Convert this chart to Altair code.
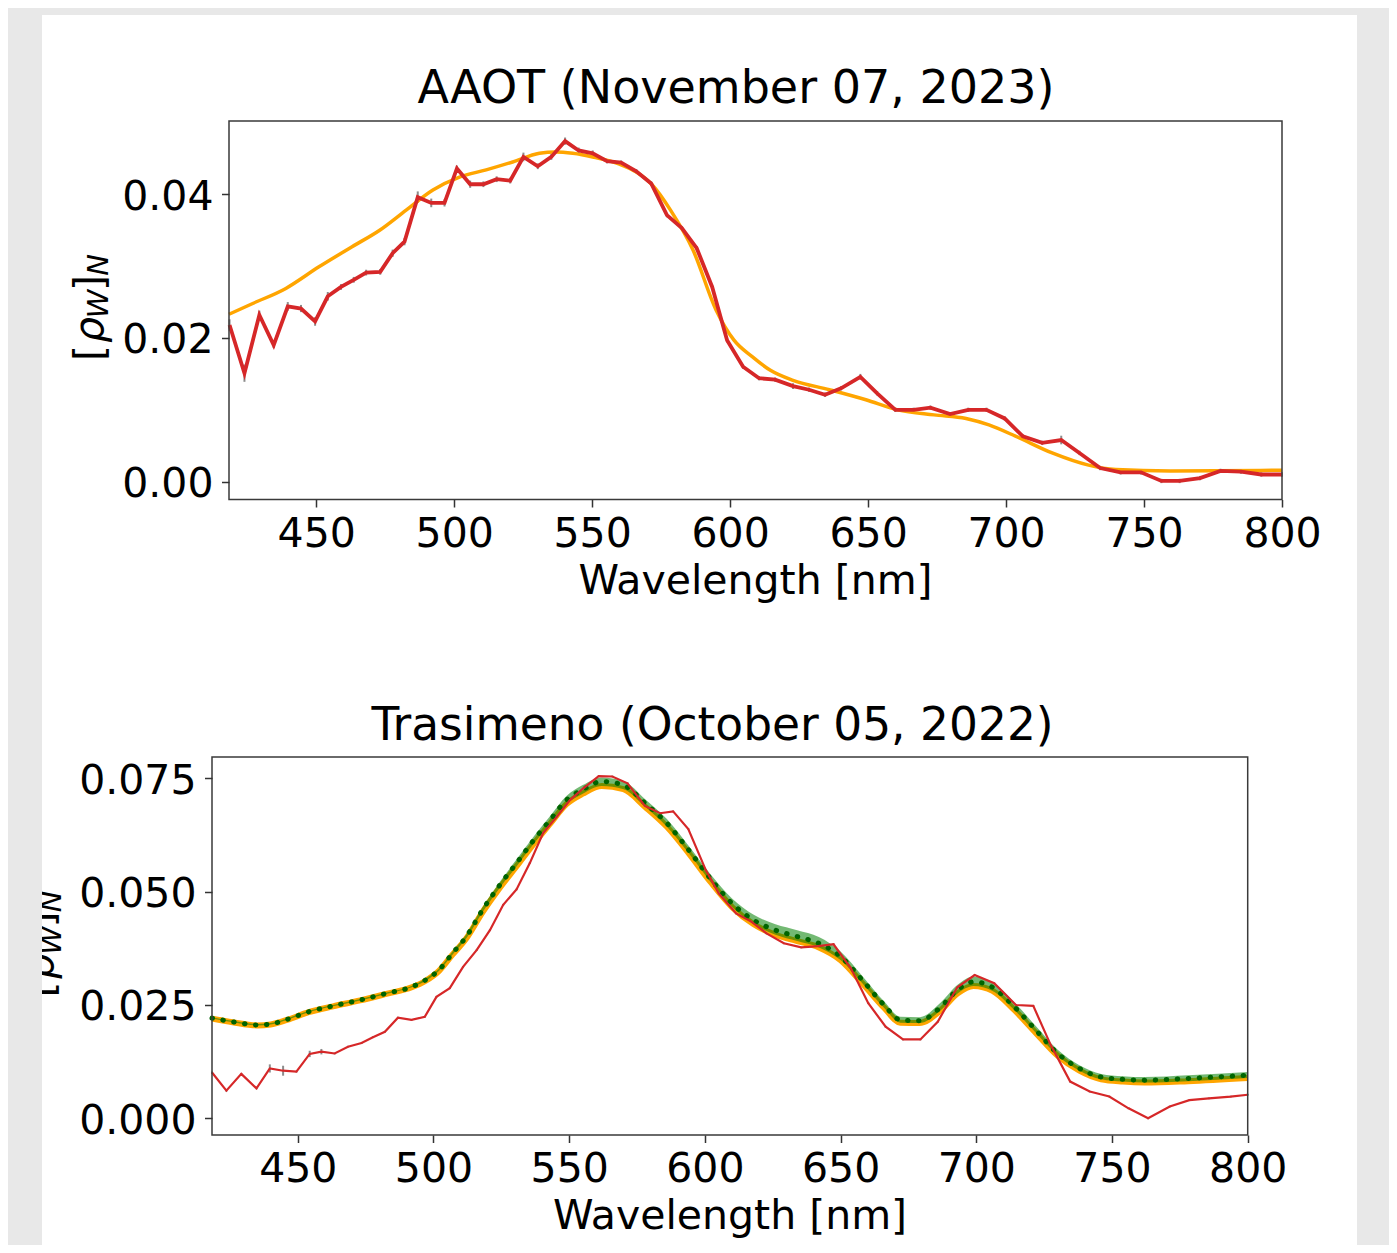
import altair as alt
import pandas as pd

FONT = "DejaVu Sans"

# ---------------- data ----------------
x_ticks = [450, 500, 550, 600, 650, 700, 750, 800]
top_y_ticks = [0.0, 0.02, 0.04]
bot_y_ticks = [0.0, 0.025, 0.05, 0.075]

top_title = "AAOT (November 07, 2023)"
bot_title = "Trasimeno (October 05, 2022)"
x_label = "Wavelength [nm]"

top_red_wl = [418.6, 424.0, 429.4, 434.6, 439.7, 444.5, 449.6, 454.2, 459.0, 463.6,
              468.1, 473.2, 477.7, 482.0, 486.8, 491.7, 496.5, 501.0, 505.8, 510.6,
              515.4, 520.3, 525.1, 530.3, 535.2, 540.2, 545.1, 550.2, 555.4, 560.5,
              566.0, 571.4, 577.1, 582.5, 587.9, 593.5, 598.9, 604.7, 610.5, 616.3,
              622.8, 628.6, 634.4, 640.2, 647.2, 653.3, 659.9, 666.5, 672.6, 679.7,
              686.3, 692.9, 699.5, 706.1, 713.1, 720.0, 726.6, 734.1, 741.5, 748.9,
              756.3, 762.9, 770.3, 777.7, 785.1, 792.5, 800.0]
top_red_val = [0.0218, 0.0151, 0.0232, 0.0190, 0.0244, 0.0241, 0.0223, 0.0258, 0.0271, 0.0281,
               0.0291, 0.0292, 0.0318, 0.0334, 0.0396, 0.0388, 0.0388, 0.0436, 0.0414, 0.0414,
               0.0421, 0.0419, 0.0452, 0.0439, 0.0452, 0.0474, 0.0461, 0.0457, 0.0446, 0.0444,
               0.0432, 0.0415, 0.0371, 0.0353, 0.0325, 0.0271, 0.0197, 0.0160, 0.0144, 0.0142,
               0.0133, 0.0128, 0.0121, 0.0130, 0.0146, 0.0123, 0.0100, 0.0100, 0.0103, 0.0094,
               0.0100, 0.0100, 0.0088, 0.0063, 0.0054, 0.0058, 0.0040, 0.0019, 0.0013, 0.0013,
               0.0001, 0.0001, 0.0005, 0.0015, 0.0014, 0.0010, 0.0010]
top_red_err = [0.0008, 0.0012, 0.0006, 0.0004, 0.0006, 0.0005, 0.0006, 0.0006, 0.0004, 0.0004,
               0.0004, 0.0004, 0.0005, 0.0005, 0.0008, 0.0006, 0.0005, 0.0004, 0.0005, 0.0004,
               0.0004, 0.0004, 0.0006, 0.0004, 0.0004, 0.0005, 0.0004, 0.0004, 0.0003, 0.0003,
               0.0003, 0.0003, 0.0003, 0.0003, 0.0003, 0.0003, 0.0003, 0.0003, 0.0003, 0.0003,
               0.0004, 0.0003, 0.0003, 0.0003, 0.0004, 0.0003, 0.0003, 0.0003, 0.0003, 0.0003,
               0.0003, 0.0003, 0.0003, 0.0003, 0.0003, 0.0006, 0.0003, 0.0003, 0.0003, 0.0003,
               0.0003, 0.0003, 0.0003, 0.0003, 0.0003, 0.0003, 0.0003]

top_orange_wl = [418.4, 427.0, 439.0, 451.0, 463.0, 473.0, 482.6, 492.3, 501.9, 511.6,
                 521.2, 530.9, 536.9, 543.0, 550.2, 559.9, 566.0, 571.8, 578.4, 586.6,
                 594.9, 601.4, 608.0, 614.6, 622.8, 636.0, 649.2, 660.7, 673.9, 685.5,
                 693.8, 703.6, 716.7, 729.9, 739.8, 759.6, 800.0]
top_orange_val = [0.0233, 0.0248, 0.0269, 0.0299, 0.0327, 0.0350, 0.0378, 0.0406, 0.0424, 0.0434,
                  0.0445, 0.0457, 0.0459, 0.0457, 0.0452, 0.0442, 0.0431, 0.0413, 0.0378, 0.0322,
                  0.0239, 0.0197, 0.0174, 0.0155, 0.0141, 0.0128, 0.0114, 0.0100, 0.0093, 0.0088,
                  0.0079, 0.0063, 0.0040, 0.0023, 0.0017, 0.0015, 0.0016]

bot_red_wl = [418.4, 423.7, 429.2, 434.8, 439.7, 444.6, 449.5, 454.4, 458.7, 463.6,
              468.5, 473.5, 477.7, 482.1, 486.9, 491.9, 496.8, 501.1, 506.0, 510.9,
              515.9, 520.8, 525.7, 530.6, 535.5, 540.4, 545.4, 550.3, 555.2, 560.9,
              565.9, 571.5, 577.9, 583.5, 588.3, 593.9, 600.3, 605.1, 611.5, 617.1,
              622.7, 629.1, 635.5, 641.8, 647.4, 653.8, 660.2, 666.6, 673.0, 679.4,
              685.8, 693.0, 699.4, 706.6, 714.6, 721.0, 727.4, 734.6, 741.8, 749.0,
              756.1, 763.3, 771.3, 778.5, 785.7, 793.7, 800.0]
bot_red_val = [0.0101, 0.0061, 0.0098, 0.0066, 0.0110, 0.0105, 0.0103, 0.0142, 0.0147, 0.0143,
               0.0158, 0.0166, 0.0179, 0.0191, 0.0222, 0.0217, 0.0224, 0.0268, 0.0287, 0.0334,
               0.0371, 0.0415, 0.0471, 0.0505, 0.0563, 0.0629, 0.0665, 0.0702, 0.0728, 0.0755,
               0.0754, 0.0739, 0.0689, 0.0673, 0.0677, 0.0638, 0.0548, 0.0496, 0.0452, 0.0434,
               0.0408, 0.0386, 0.0377, 0.0380, 0.0384, 0.0331, 0.0254, 0.0202, 0.0174, 0.0174,
               0.0213, 0.0289, 0.0316, 0.0298, 0.0250, 0.0248, 0.0162, 0.0081, 0.0059, 0.0048,
               0.0022, 0.0000, 0.0026, 0.0040, 0.0044, 0.0048, 0.0052]
bot_red_err = [0.0002, 0.0002, 0.0002, 0.0002, 0.0009, 0.0011, 0.0002, 0.0007, 0.0006, 0.0002,
               0.0002, 0.0002, 0.0002, 0.0002, 0.0002, 0.0002, 0.0002, 0.0002, 0.0002, 0.0002,
               0.0002, 0.0002, 0.0002, 0.0002, 0.0002, 0.0002, 0.0002, 0.0002, 0.0002, 0.0002,
               0.0002, 0.0002, 0.0002, 0.0002, 0.0002, 0.0002, 0.0002, 0.0002, 0.0002, 0.0002,
               0.0002, 0.0002, 0.0002, 0.0002, 0.0002, 0.0002, 0.0002, 0.0002, 0.0002, 0.0002,
               0.0002, 0.0002, 0.0002, 0.0002, 0.0002, 0.0002, 0.0002, 0.0002, 0.0002, 0.0002,
               0.0002, 0.0002, 0.0002, 0.0002, 0.0002, 0.0002, 0.0002]

bot_model_wl = [418.4, 426, 435, 440, 446, 454, 463, 473, 483, 492,
                497, 502, 507, 512, 518, 524, 531, 537, 543, 549,
                555, 562, 570, 578, 586, 594, 602, 610, 618, 626,
                634, 642, 650, 658, 666, 672, 679, 687, 693, 699,
                706, 714, 722, 730, 738, 746, 754, 762, 778, 800]
bot_dotted_val = [0.0221, 0.0213, 0.0206, 0.0208, 0.0218, 0.0235, 0.0248, 0.0261, 0.0276, 0.0290,
                  0.0305, 0.0327, 0.0364, 0.0400, 0.0459, 0.0511, 0.0566, 0.0614, 0.0658, 0.0702,
                  0.0725, 0.0743, 0.0735, 0.0695, 0.0651, 0.0592, 0.0529, 0.0474, 0.0437, 0.0415,
                  0.0401, 0.0386, 0.0357, 0.0305, 0.0250, 0.0217, 0.0215, 0.0246, 0.0283, 0.0301,
                  0.0289, 0.0246, 0.0194, 0.0143, 0.0110, 0.0091, 0.0086, 0.0084, 0.0088, 0.0095]
bot_orange_val = [0.0220, 0.0212, 0.0205, 0.0207, 0.0217, 0.0234, 0.0247, 0.0260, 0.0275, 0.0289,
                  0.0303, 0.0325, 0.0361, 0.0396, 0.0454, 0.0505, 0.0559, 0.0606, 0.0650, 0.0693,
                  0.0716, 0.0733, 0.0726, 0.0687, 0.0643, 0.0585, 0.0522, 0.0466, 0.0428, 0.0405,
                  0.0391, 0.0377, 0.0349, 0.0298, 0.0244, 0.0211, 0.0210, 0.0239, 0.0275, 0.0292,
                  0.0281, 0.0239, 0.0188, 0.0138, 0.0105, 0.0086, 0.0081, 0.0079, 0.0082, 0.0089]
bot_band_hi = [0.0223, 0.0215, 0.0208, 0.0210, 0.0220, 0.0237, 0.0250, 0.0263, 0.0278, 0.0292,
               0.0308, 0.0330, 0.0368, 0.0405, 0.0465, 0.0518, 0.0574, 0.0622, 0.0667, 0.0711,
               0.0735, 0.0752, 0.0744, 0.0704, 0.0660, 0.0601, 0.0539, 0.0485, 0.0449, 0.0428,
               0.0415, 0.0400, 0.0368, 0.0314, 0.0258, 0.0224, 0.0223, 0.0256, 0.0294, 0.0313,
               0.0300, 0.0256, 0.0203, 0.0151, 0.0117, 0.0098, 0.0093, 0.0091, 0.0095, 0.0102]

# ---------------- tables ----------------
top_red = pd.DataFrame({"wl": top_red_wl, "v": top_red_val, "e": top_red_err})
top_red["lo"] = top_red["v"] - top_red["e"]
top_red["hi"] = top_red["v"] + top_red["e"]
top_orange = pd.DataFrame({"wl": top_orange_wl, "v": top_orange_val})

bot_red = pd.DataFrame({"wl": bot_red_wl, "v": bot_red_val, "e": bot_red_err})
bot_red["lo"] = bot_red["v"] - bot_red["e"]
bot_red["hi"] = bot_red["v"] + bot_red["e"]
bot_model = pd.DataFrame({"wl": bot_model_wl, "dot": bot_dotted_val,
                          "org": bot_orange_val, "hi": bot_band_hi})

one = pd.DataFrame({"k": [0]})

# ---------------- helpers ----------------
GRAY_BG = "#e8e8e8"
X_DOM = [418.4, 800]
TOP_Y_DOM = [-0.00248, 0.0502]
BOT_Y_DOM = [-0.00368, 0.0797]


def rect_px(x1, x2, y1, y2, color):
    return alt.Chart(one).mark_rect(color=color).encode(
        x=alt.value(x1), x2=alt.value(x2), y=alt.value(y1), y2=alt.value(y2))


def text_px(txt, x, y, size, angle=0, italic=False):
    return alt.Chart(one).mark_text(
        text=txt, font=FONT, fontSize=size, angle=angle, align="center",
        baseline="alphabetic", color="black",
        fontStyle="italic" if italic else "normal").encode(
        x=alt.value(x), y=alt.value(y))


def frame(x1, x2, h):
    return alt.Chart(one).mark_rect(fill="transparent", stroke="#3a3a3a", strokeWidth=1.5).encode(
        x=alt.value(x1), x2=alt.value(x2), y=alt.value(0), y2=alt.value(h))


def xenc(rng, field="wl"):
    return alt.X(f"{field}:Q", scale=alt.Scale(domain=X_DOM, range=rng, nice=False, zero=False),
                 axis=alt.Axis(values=x_ticks, format="d", title=None, grid=False, domain=False,
                               tickSize=7.5, tickWidth=1.5, tickColor="#333333",
                               labelFont=FONT, labelFontSize=41, labelColor="black",
                               labelPadding=7, labelFlush=False, labelOverlap=False, zindex=1))


def yenc(field, dom, ticks, fmt, off=0):
    return alt.Y(f"{field}:Q", scale=alt.Scale(domain=dom, nice=False, zero=False),
                 axis=alt.Axis(values=ticks, format=fmt, title=None, grid=False, domain=False,
                               tickSize=7.5, tickWidth=1.5, tickColor="#333333",
                               labelFont=FONT, labelFontSize=41, labelColor="black",
                               labelPadding=8.5, labelBaseline="alphabetic", labelOffset=15,
                               labelOverlap=False, offset=off, zindex=1))


def ylabel_glyphs(x_main, x_sub, yc):
    parts = [("[", x_main, yc + 43, 41, False),
             ("ρ", x_main, yc + 20, 41, True),
             ("W", x_sub, yc - 6, 29, True),
             ("]", x_main, yc - 27, 41, False),
             ("N", x_sub, yc - 45, 29, True)]
    return [text_px(t, x, y, s, angle=270, italic=it) for t, x, y, s, it in parts]


# Both panels share the same group origin (page x = 229); the lower panel's
# plot area starts 17 px further left, handled through its scale range.
SHIFT = 17.0

# ---------------- top panel ----------------
TW, TH = 1053, 378.5
TRNG = [0, TW]
top_layers = [
    rect_px(-221, 1160, -113, 519, GRAY_BG),
    rect_px(-187, 1128, -106, 519, "white"),
    text_px(top_title, 507, -18, 46),
    text_px(x_label, 526.5, 472.5, 41),
    *ylabel_glyphs(-126.3, -121, 189),
    alt.Chart(top_red).mark_rule(color="#8c8c8c", strokeWidth=2).encode(
        x=xenc(TRNG), y=yenc("lo", TOP_Y_DOM, top_y_ticks, ".2f"), y2="hi"),
    alt.Chart(top_orange).mark_line(color="#ffa500", strokeWidth=3.5, interpolate="monotone").encode(
        x=xenc(TRNG), y=yenc("v", TOP_Y_DOM, top_y_ticks, ".2f")),
    alt.Chart(top_red).mark_line(color="#d62728", strokeWidth=3.8).encode(
        x=xenc(TRNG), y=yenc("v", TOP_Y_DOM, top_y_ticks, ".2f")),
    frame(0, TW, TH),
]
top = alt.layer(*top_layers).properties(width=TW, height=TH)

# ---------------- bottom panel ----------------
BW, BH = 1035.7, 378
BRNG = [-SHIFT, BW - SHIFT]
by = lambda f: yenc(f, BOT_Y_DOM, bot_y_ticks, ".3f", SHIFT)
bot_layers = [
    rect_px(-221, 1160, -117, 488, GRAY_BG),
    rect_px(-187, 1128, -117, 488, "white"),
    text_px(bot_title, 483.5, -17, 45.5),
    text_px(x_label, 501, 472.3, 41),
    *ylabel_glyphs(-176, -168, 189.5),
    rect_px(-221, -187, -117, 488, GRAY_BG),
    alt.Chart(bot_model).mark_line(color="#ffa500", strokeWidth=6, interpolate="monotone").encode(
        x=xenc(BRNG), y=by("org")),
    alt.Chart(bot_model).mark_area(color="green", opacity=0.55, interpolate="monotone").encode(
        x=xenc(BRNG), y=by("org"), y2="hi"),
    alt.Chart(bot_model).mark_line(color="#006400", strokeWidth=5, strokeDash=[0.5, 10.5],
                                   strokeCap="round", interpolate="monotone").encode(
        x=xenc(BRNG), y=by("dot")),
    alt.Chart(bot_red).mark_rule(color="#8c8c8c", strokeWidth=2).encode(
        x=xenc(BRNG), y=by("lo"), y2="hi"),
    alt.Chart(bot_red).mark_line(color="#d62728", strokeWidth=2.2).encode(
        x=xenc(BRNG), y=by("v")),
    frame(-SHIFT, BW - SHIFT, BH),
]
bot = alt.layer(*bot_layers).properties(width=BW - SHIFT, height=BH)

chart = alt.vconcat(top, bot, spacing=0).properties(
    padding=0, background="white"
).configure_view(strokeWidth=0, stroke="transparent")

chart.save("out.html", embed_options={"renderer": "svg", "actions": False})
